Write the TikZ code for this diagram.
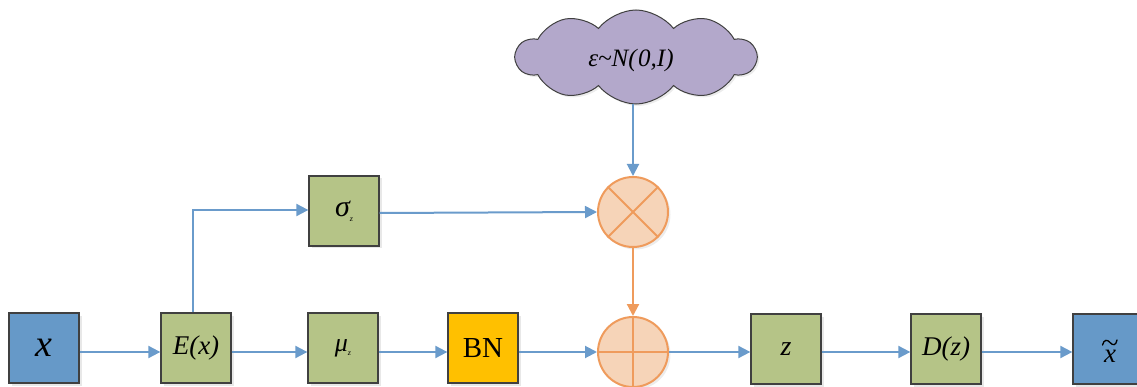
\documentclass[tikz,border=0pt]{standalone}
\usepackage{fontspec}
\setmainfont{Liberation Serif}
\usetikzlibrary{arrows.meta,shapes.symbols,shadows}
\definecolor{boxblue}{HTML}{6699C8}
\definecolor{boxgreen}{HTML}{B5C487}
\definecolor{bnyellow}{HTML}{FFC000}
\definecolor{linkblue}{HTML}{6A9BCB}
\definecolor{opfill}{HTML}{F6D4B8}
\definecolor{opline}{HTML}{EF9B5C}
\definecolor{cloudfill}{HTML}{B3A8CB}
\definecolor{edgegrey}{HTML}{404040}
\tikzset{
  blk/.style={draw=edgegrey, line width=1.3pt, minimum width=70pt, minimum height=70pt, inner sep=0pt,
    drop shadow={opacity=0.18, shadow xshift=2.5pt, shadow yshift=-2.5pt}},
  inblk/.style={blk, fill=boxblue},
  gblk/.style={blk, fill=boxgreen},
  yblk/.style={blk, fill=bnyellow},
  opc/.style={circle, draw=opline, fill=opfill, line width=2pt, minimum size=70pt, inner sep=0pt,
    drop shadow={opacity=0.15, shadow xshift=2.5pt, shadow yshift=-2.5pt}},
  link/.style={draw=linkblue, line width=2pt, -{Triangle[length=12pt,width=12pt]}},
  olink/.style={draw=opline, line width=2.2pt, -{Triangle[length=12pt,width=12pt]}},
}
\begin{document}
\begin{tikzpicture}[x=1pt,y=-1pt]
\useasboundingbox (0,0) rectangle (1137,387);
% cloud
\node[cloud, cloud puffs=10, cloud puff arc=105, aspect=2.4, draw=edgegrey, line width=1pt, fill=cloudfill,
  minimum width=240pt, minimum height=94pt, inner sep=0pt,
  drop shadow={opacity=0.15, shadow xshift=2pt, shadow yshift=-2pt}] (cl) at (636,57) {};
\node[font=\fontsize{25}{28}\selectfont\itshape] (cltext) at (631,60) {ε\textasciitilde N(\kern1.5pt0,I)};
% bottom row boxes
\node[inblk] (x) at (44,348) {\fontsize{38}{38}\selectfont\itshape x};
\node[gblk] (ex) at (196,348) {\fontsize{27}{30}\selectfont\itshape E(x)};
\node[gblk] (mu) at (343,348) {\fontsize{26}{30}\selectfont\itshape μ\raisebox{-4pt}{\fontsize{8}{8}\selectfont z}};
\node[yblk] (bn) at (483,348) {\fontsize{29}{30}\selectfont BN};
\node[opc] (plus) at (633,352) {};
\node[gblk] (z) at (786,349) {\fontsize{28}{30}\selectfont\itshape z};
\node[gblk] (dz) at (946,349) {\fontsize{27}{30}\selectfont\itshape D(z)};
\node[inblk] (xt) at (1108,349) {};
\node[font=\fontsize{27}{30}\selectfont\itshape, anchor=base, inner sep=0pt] (xtx) at (1110,362) {x};
\draw[black, line width=1.3pt, line cap=round] (1102.5,345) .. controls (1104,339) and (1107.5,339.5) .. (1110,342.5)
  .. controls (1112.5,345.5) and (1116,346) .. (1117,340);
% upper row
\node[gblk] (sig) at (344,211) {\fontsize{30}{30}\selectfont\itshape σ\raisebox{-5pt}{\fontsize{8}{8}\selectfont z}};
\node[opc] (times) at (633,212) {};
% operator marks
\draw[opline, line width=2pt] (plus.north) -- (plus.south) (plus.west) -- (plus.east);
\draw[opline, line width=2pt] (times.north west) -- (times.south east) (times.north east) -- (times.south west);
% connectors
\draw[link] ([yshift=-4pt]x.east) -- ([yshift=-4pt]ex.west);
\draw[link] ([yshift=-4pt]ex.east) -- ([yshift=-4pt]mu.west);
\draw[link] ([yshift=-4pt]mu.east) -- ([yshift=-4pt]bn.west);
\draw[link] ([yshift=-4pt]bn.east) -- ([yshift=-4pt]bn.east -| plus.west);
\draw[link] (plus.east) -- ([yshift=-3pt]z.west);
\draw[link] ([yshift=-3pt]z.east) -- ([yshift=-3pt]dz.west);
\draw[link] ([yshift=-3pt]dz.east) -- ([yshift=-3pt]xt.west);
\coordinate (corner) at (193,210);
\draw[link] ([xshift=-3pt]ex.north) -- (corner) -- (corner -| sig.west);
\draw[link] ([yshift=-2pt]sig.east) -- (times.west);
\draw[link] (cl.south -| times.north) -- (times.north);
\draw[olink] (times.south) -- (plus.north);
\end{tikzpicture}
\end{document}
